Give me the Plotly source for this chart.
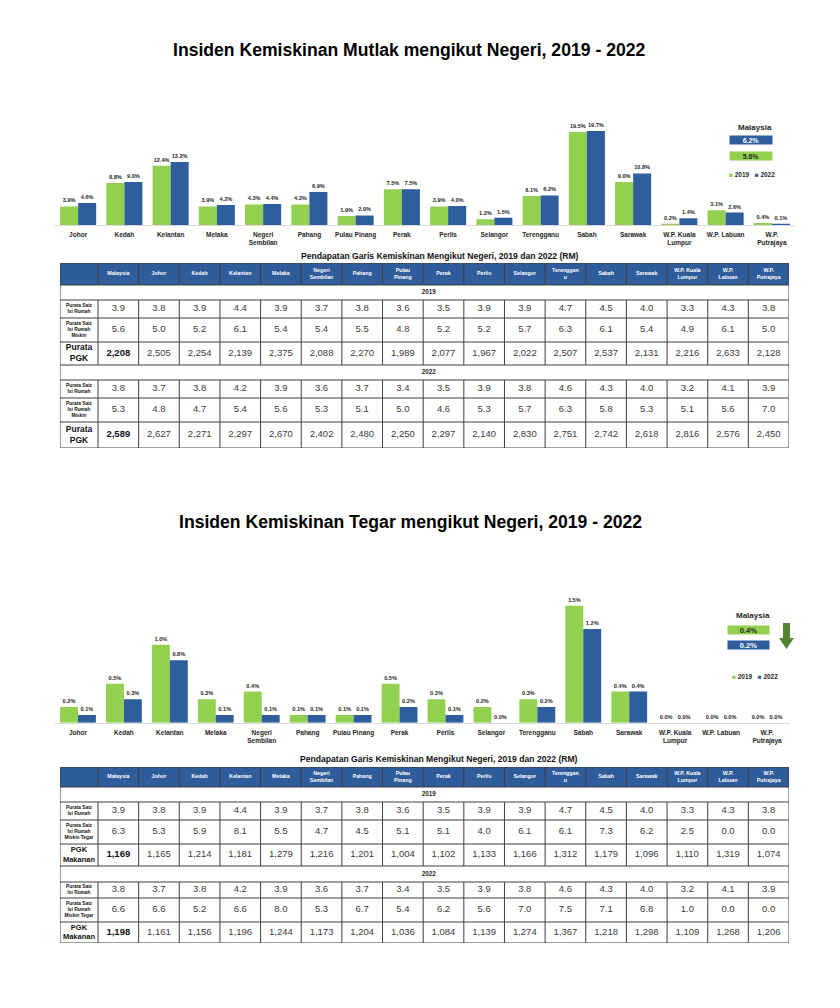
import plotly.graph_objects as go

W, H = 840, 1008
OFF = 8  # page body margin in the photographed page
FONT = "Liberation Sans"
GREEN = "#92D050"
BLUE = "#2E5E9E"
HEAD_BLUE = "#2F5C9B"
DARK = "#262626"
GRID = "#3F3F3F"
VAL = "#3A3A3A"
ARROW = "#548235"

# ---------------- data ----------------
years = ["2019", "2022"]
states = ["Johor", "Kedah", "Kelantan", "Melaka", "Negeri Sembilan", "Pahang",
          "Pulau Pinang", "Perak", "Perlis", "Selangor", "Terengganu", "Sabah",
          "Sarawak", "W.P. Kuala Lumpur", "W.P. Labuan", "W.P. Putrajaya"]
state_ticks = ["Johor", "Kedah", "Kelantan", "Melaka", "Negeri<br>Sembilan", "Pahang",
               "Pulau Pinang", "Perak", "Perlis", "Selangor", "Terengganu", "Sabah",
               "Sarawak", "W.P. Kuala<br>Lumpur", "W.P. Labuan", "W.P.<br>Putrajaya"]

mutlak_2019 = [3.9, 8.8, 12.4, 3.9, 4.3, 4.3, 1.9, 7.5, 3.9, 1.2, 6.1, 19.5, 9.0, 0.2, 3.1, 0.4]
mutlak_2022 = [4.6, 9.0, 13.2, 4.2, 4.4, 6.9, 2.0, 7.5, 4.0, 1.5, 6.2, 19.7, 10.8, 1.4, 2.6, 0.1]
malaysia_mutlak = [5.6, 6.2]   # 2019, 2022

tegar_2019 = [0.2, 0.5, 1.0, 0.3, 0.4, 0.1, 0.1, 0.5, 0.3, 0.2, 0.3, 1.5, 0.4, 0.0, 0.0, 0.0]
tegar_2022 = [0.1, 0.3, 0.8, 0.1, 0.1, 0.1, 0.1, 0.2, 0.1, 0.0, 0.2, 1.2, 0.4, 0.0, 0.0, 0.0]
malaysia_tegar = [0.4, 0.2]    # 2019, 2022

table_cols = ["Malaysia", "Johor", "Kedah", "Kelantan", "Melaka", "Negeri<br>Sembilan",
              "Pahang", "Pulau<br>Pinang", "Perak", "Perlis", "Selangor", "Terenggan<br>u",
              "Sabah", "Sarawak", "W.P. Kuala<br>Lumpur", "W.P.<br>Labuan", "W.P.<br>Putrajaya"]

t1_labels = ["Purata Saiz<br>Isi Rumah", "Purata Saiz<br>Isi Rumah<br>Miskin", "Purata<br>PGK"]
t1_hh_2019 = [3.9, 3.8, 3.9, 4.4, 3.9, 3.7, 3.8, 3.6, 3.5, 3.9, 3.9, 4.7, 4.5, 4.0, 3.3, 4.3, 3.8]
t1_miskin_2019 = [5.6, 5.0, 5.2, 6.1, 5.4, 5.4, 5.5, 4.8, 5.2, 5.2, 5.7, 6.3, 6.1, 5.4, 4.9, 6.1, 5.0]
t1_pgk_2019 = [2208, 2505, 2254, 2139, 2375, 2088, 2270, 1989, 2077, 1967, 2022, 2507, 2537, 2131, 2216, 2633, 2128]
t1_hh_2022 = [3.8, 3.7, 3.8, 4.2, 3.9, 3.6, 3.7, 3.4, 3.5, 3.9, 3.8, 4.6, 4.3, 4.0, 3.2, 4.1, 3.9]
t1_miskin_2022 = [5.3, 4.8, 4.7, 5.4, 5.6, 5.3, 5.1, 5.0, 4.6, 5.3, 5.7, 6.3, 5.8, 5.3, 5.1, 5.6, 7.0]
t1_pgk_2022 = [2589, 2627, 2271, 2297, 2670, 2402, 2480, 2250, 2297, 2140, 2830, 2751, 2742, 2618, 2816, 2576, 2450]

t2_labels = ["Purata Saiz<br>Isi Rumah", "Purata Saiz<br>Isi Rumah<br>Miskin Tegar", "PGK<br>Makanan"]
t2_hh_2019 = [3.9, 3.8, 3.9, 4.4, 3.9, 3.7, 3.8, 3.6, 3.5, 3.9, 3.9, 4.7, 4.5, 4.0, 3.3, 4.3, 3.8]
t2_tegar_2019 = [6.3, 5.3, 5.9, 8.1, 5.5, 4.7, 4.5, 5.1, 5.1, 4.0, 6.1, 6.1, 7.3, 6.2, 2.5, 0.0, 0.0]
t2_pgkm_2019 = [1169, 1165, 1214, 1181, 1279, 1216, 1201, 1004, 1102, 1133, 1166, 1312, 1179, 1096, 1110, 1319, 1074]
t2_hh_2022 = [3.8, 3.7, 3.8, 4.2, 3.9, 3.6, 3.7, 3.4, 3.5, 3.9, 3.8, 4.6, 4.3, 4.0, 3.2, 4.1, 3.9]
t2_tegar_2022 = [6.6, 6.6, 5.2, 6.6, 8.0, 5.3, 6.7, 5.4, 6.2, 5.6, 7.0, 7.5, 7.1, 6.8, 1.0, 0.0, 0.0]
t2_pgkm_2022 = [1198, 1161, 1156, 1196, 1244, 1173, 1204, 1036, 1084, 1139, 1274, 1367, 1218, 1298, 1109, 1268, 1206]


def ppx(x):
    return (x - OFF) / W


def ppy(y):
    return 1 - (y - OFF) / H


fig = go.Figure()

# ---------------- bar charts ----------------
for xa, ya, v19, v22 in [("x", "y", mutlak_2019, mutlak_2022),
                         ("x2", "y2", tegar_2019, tegar_2022)]:
    for vals, col, yr in [(v19, GREEN, years[0]), (v22, BLUE, years[1])]:
        fig.add_trace(go.Bar(
            x=states, y=vals, name=yr, xaxis=xa, yaxis=ya,
            marker=dict(color=col, line=dict(width=0)),
            texttemplate="<b>%{y:.1f}%</b>", textposition="outside",
            textfont=dict(size=5.6, color=DARK, family=FONT),
            cliponaxis=False, constraintext="none", showlegend=False,
        ))


# ---------------- tables ----------------
def add_table(xa, ya, labels, label_sizes, blocks, row_h):
    col_w0 = 38.0
    col_w = 40.65
    n = len(table_cols)
    edges = [0.0] + [col_w0 + col_w * i for i in range(n + 1)]
    total_w = edges[-1]
    centers = [(edges[i] + edges[i + 1]) / 2 for i in range(len(edges) - 1)]
    bounds = [0.0]
    for h in row_h:
        bounds.append(bounds[-1] + h)
    mids = [(bounds[i] + bounds[i + 1]) / 2 for i in range(len(row_h))]
    kinds = ["h", "s", "d", "d", "d", "s", "d", "d", "d"]

    xs, ys, txt, sz, cl = [], [], [], [], []
    # header
    for j, name in enumerate(table_cols):
        xs.append(centers[j + 1]); ys.append(mids[0])
        txt.append("<b>" + name + "</b>"); sz.append(5.3); cl.append("white")
    for b, (year, rows) in enumerate(zip(years, blocks)):
        r0 = 1 + 4 * b
        xs.append(edges[9] + 5.5); ys.append(mids[r0])
        txt.append("<b>" + year + "</b>"); sz.append(6.3); cl.append(DARK)
        for k, (vals, kind) in enumerate(rows):
            r = r0 + 1 + k
            xs.append(centers[0]); ys.append(mids[r])
            txt.append("<b>" + labels[k] + "</b>"); sz.append(label_sizes[k]); cl.append("#111111")
            for j, v in enumerate(vals):
                s = f"{v:.1f}" if kind == "f" else f"{v:,}"
                if kind == "i" and j == 0:
                    s = "<b>" + s + "</b>"
                xs.append(centers[j + 1]); ys.append(mids[r])
                txt.append(s); sz.append(9.5); cl.append("#111111" if (kind == "i" and j == 0) else VAL)

    # grid
    gx, gy = [], []
    for yb in bounds:
        gx += [0, total_w, None]; gy += [yb, yb, None]
    for xe in (0, total_w):
        gx += [xe, xe, None]; gy += [0, bounds[-1], None]
    for r, k in enumerate(kinds):
        if k == "s":
            continue
        for xe in edges[1:-1]:
            gx += [xe, xe, None]; gy += [bounds[r], bounds[r + 1], None]

    fig.add_shape(type="rect", xref=xa, yref=ya, x0=0, x1=total_w, y0=bounds[0], y1=bounds[1],
                  fillcolor=HEAD_BLUE, line=dict(width=0), layer="below")
    fig.add_trace(go.Scatter(x=gx, y=gy, mode="lines", xaxis=xa, yaxis=ya,
                             line=dict(color=GRID, width=1), hoverinfo="skip",
                             showlegend=False, cliponaxis=False))
    fig.add_trace(go.Scatter(x=xs, y=ys, mode="text", text=txt, xaxis=xa, yaxis=ya,
                             textfont=dict(size=sz, color=cl, family=FONT),
                             hoverinfo="skip", showlegend=False, cliponaxis=False))
    return total_w, bounds[-1]


t1_blocks = [
    [(t1_hh_2019, "f"), (t1_miskin_2019, "f"), (t1_pgk_2019, "i")],
    [(t1_hh_2022, "f"), (t1_miskin_2022, "f"), (t1_pgk_2022, "i")],
]
t2_blocks = [
    [(t2_hh_2019, "f"), (t2_tegar_2019, "f"), (t2_pgkm_2019, "i")],
    [(t2_hh_2022, "f"), (t2_tegar_2022, "f"), (t2_pgkm_2022, "i")],
]
tw1, th1 = add_table("x3", "y3", t1_labels, [4.8, 4.8, 8.5], t1_blocks,
                     [22, 15, 18, 24, 23, 15, 18, 24, 26])
tw2, th2 = add_table("x4", "y4", t2_labels, [4.8, 4.8, 7.5], t2_blocks,
                     [20, 15, 18, 24, 22, 16, 16, 24, 21])

# ---------------- layout ----------------
xcommon = dict(type="category", showline=True, linecolor="#D9D9D9", linewidth=1,
               showgrid=False, zeroline=False, ticks="outside", ticklen=3,
               tickcolor="rgba(0,0,0,0)", tickvals=states, ticktext=state_ticks,
               tickfont=dict(size=6.5, color=DARK, family=FONT, weight="bold"),
               fixedrange=True)
ycommon = dict(visible=False, showgrid=False, zeroline=False, fixedrange=True)

fig.update_layout(
    width=W, height=H, margin=dict(l=0, r=0, t=0, b=0),
    paper_bgcolor="white", plot_bgcolor="rgba(0,0,0,0)",
    barmode="group", bargap=0.22, bargroupgap=0,
    font=dict(family=FONT, color=DARK),
    xaxis=dict(xcommon, domain=[ppx(55), ppx(795)], anchor="y"),
    yaxis=dict(ycommon, domain=[ppy(225), ppy(124.8)], range=[0, 21], anchor="x"),
    xaxis2=dict(xcommon, domain=[ppx(55), ppx(790)], anchor="y2"),
    yaxis2=dict(ycommon, domain=[ppy(722.7), ppy(597.9)], range=[0, 1.6], anchor="x2"),
    xaxis3=dict(visible=False, domain=[ppx(60), ppx(789)], range=[0, tw1], anchor="y3", fixedrange=True),
    yaxis3=dict(visible=False, domain=[ppy(263 + th1), ppy(263)], range=[th1, 0], anchor="x3", fixedrange=True),
    xaxis4=dict(visible=False, domain=[ppx(60), ppx(789)], range=[0, tw2], anchor="y4", fixedrange=True),
    yaxis4=dict(visible=False, domain=[ppy(767 + th2), ppy(767)], range=[th2, 0], anchor="x4", fixedrange=True),
    showlegend=False,
)

ann = []
def A(text, x, y, size, color=DARK, **kw):
    d = dict(text=text, x=ppx(x), y=ppy(y), xref="paper", yref="paper", showarrow=False,
             xanchor="center", yanchor="middle", font=dict(size=size, color=color, family=FONT))
    d.update(kw)
    ann.append(d)

A("<b>Insiden Kemiskinan Mutlak mengikut Negeri, 2019 - 2022</b>", 409, 50, 17.6, "#000000")
A("<b>Insiden Kemiskinan Tegar mengikut Negeri, 2019 - 2022</b>", 410, 522, 17.6, "#000000")
A("<b>Pendapatan Garis Kemiskinan Mengikut Negeri, 2019 dan 2022 (RM)</b>", 440, 256, 8.6, "#111111")
A("<b>Pendapatan Garis Kemiskinan Mengikut Negeri, 2019 dan 2022 (RM)</b>", 439, 759, 8.6, "#111111")

legend_txt = (f"<span style='color:{GREEN}'>■</span> <b>{years[0]}</b>   "
              f"<span style='color:{BLUE}'>■</span> <b>{years[1]}</b>")

# chart 1 Malaysia panel
A("<b>Malaysia</b>", 755, 127.5, 8)
A(f"<b>{malaysia_mutlak[1]:.1f}%</b>", 751, 140.5, 7, "white", bgcolor=BLUE, width=42, height=8, borderpad=0)
A(f"<b>{malaysia_mutlak[0]:.1f}%</b>", 751, 156, 7, DARK, bgcolor=GREEN, width=42, height=8, borderpad=0)
A(legend_txt, 752, 175, 6.5)

# chart 2 Malaysia panel
A("<b>Malaysia</b>", 753, 615.5, 8)
A(f"<b>{malaysia_tegar[0]:.1f}%</b>", 748.5, 629.5, 7.5, DARK, bgcolor=GREEN, width=41, height=8, borderpad=0)
A(f"<b>{malaysia_tegar[1]:.1f}%</b>", 748.5, 645, 7.5, "white", bgcolor=BLUE, width=41, height=8, borderpad=0)
A(legend_txt, 755, 676, 6.5)

fig.update_layout(annotations=ann)

arrow_path = (f"M {ppx(783)},{ppy(623)} L {ppx(790)},{ppy(623)} L {ppx(790)},{ppy(638)} "
              f"L {ppx(794)},{ppy(638)} L {ppx(786.5)},{ppy(649)} L {ppx(779)},{ppy(638)} "
              f"L {ppx(783)},{ppy(638)} Z")
fig.add_shape(type="path", xref="paper", yref="paper", path=arrow_path,
              fillcolor=ARROW, line=dict(width=0))

fig.write_html("out.html")
